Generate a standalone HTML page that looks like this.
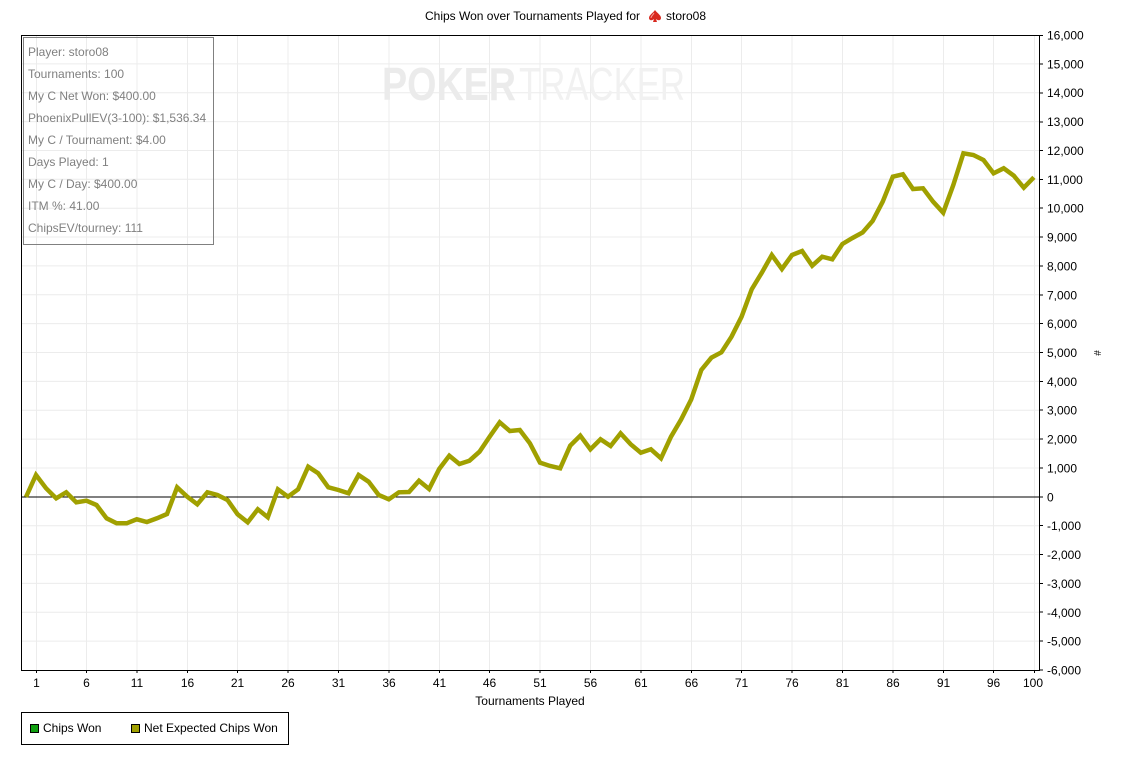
<!DOCTYPE html>
<html><head><meta charset="utf-8"><style>
html,body{margin:0;padding:0;background:#fff;}
svg{display:block;}
text{font-family:"Liberation Sans",sans-serif;}
</style></head><body>
<svg width="1129" height="758" viewBox="0 0 1129 758" xmlns="http://www.w3.org/2000/svg">
<rect width="1129" height="758" fill="#fff"/>
<!-- grid -->
<g stroke="#ececec" stroke-width="1">
<line x1="21" y1="63.9" x2="1039" y2="63.9"/><line x1="21" y1="92.7" x2="1039" y2="92.7"/><line x1="21" y1="121.6" x2="1039" y2="121.6"/><line x1="21" y1="150.5" x2="1039" y2="150.5"/><line x1="21" y1="179.3" x2="1039" y2="179.3"/><line x1="21" y1="208.2" x2="1039" y2="208.2"/><line x1="21" y1="237" x2="1039" y2="237"/><line x1="21" y1="265.9" x2="1039" y2="265.9"/><line x1="21" y1="294.8" x2="1039" y2="294.8"/><line x1="21" y1="323.6" x2="1039" y2="323.6"/><line x1="21" y1="352.5" x2="1039" y2="352.5"/><line x1="21" y1="381.4" x2="1039" y2="381.4"/><line x1="21" y1="410.2" x2="1039" y2="410.2"/><line x1="21" y1="439.1" x2="1039" y2="439.1"/><line x1="21" y1="468" x2="1039" y2="468"/><line x1="21" y1="525.7" x2="1039" y2="525.7"/><line x1="21" y1="554.6" x2="1039" y2="554.6"/><line x1="21" y1="583.4" x2="1039" y2="583.4"/><line x1="21" y1="612.3" x2="1039" y2="612.3"/><line x1="21" y1="641.1" x2="1039" y2="641.1"/>
<line x1="36.5" y1="35" x2="36.5" y2="670"/><line x1="86.5" y1="35" x2="86.5" y2="670"/><line x1="137" y1="35" x2="137" y2="670"/><line x1="187.5" y1="35" x2="187.5" y2="670"/><line x1="237.5" y1="35" x2="237.5" y2="670"/><line x1="288" y1="35" x2="288" y2="670"/><line x1="338.5" y1="35" x2="338.5" y2="670"/><line x1="389" y1="35" x2="389" y2="670"/><line x1="439.5" y1="35" x2="439.5" y2="670"/><line x1="489.5" y1="35" x2="489.5" y2="670"/><line x1="540" y1="35" x2="540" y2="670"/><line x1="590.5" y1="35" x2="590.5" y2="670"/><line x1="641" y1="35" x2="641" y2="670"/><line x1="691.5" y1="35" x2="691.5" y2="670"/><line x1="741.5" y1="35" x2="741.5" y2="670"/><line x1="792" y1="35" x2="792" y2="670"/><line x1="842.5" y1="35" x2="842.5" y2="670"/><line x1="893" y1="35" x2="893" y2="670"/><line x1="943.5" y1="35" x2="943.5" y2="670"/><line x1="993.5" y1="35" x2="993.5" y2="670"/><line x1="1034.5" y1="35" x2="1034.5" y2="670"/>
</g>
<!-- watermark -->
<text x="382" y="100" font-size="46" font-weight="bold" fill="#ebebeb" textLength="134" lengthAdjust="spacingAndGlyphs">POKER</text>
<text x="519" y="100" font-size="46" fill="#f1f1f1" textLength="166" lengthAdjust="spacingAndGlyphs">TRACKER</text>
<!-- axes -->
<g stroke="#000" stroke-width="1" fill="none">
<line x1="21.5" y1="35" x2="21.5" y2="670.5"/>
<line x1="21" y1="35.5" x2="1039" y2="35.5"/>
<line x1="21" y1="670.5" x2="1040" y2="670.5"/>
<line x1="1039.5" y1="35" x2="1039.5" y2="671"/>
<line x1="21" y1="497" x2="1039" y2="497"/>
</g>
<!-- y ticks -->
<g stroke="#000" stroke-width="1">
<line x1="1039" y1="35.5" x2="1043" y2="35.5"/><line x1="1039" y1="64" x2="1043" y2="64"/><line x1="1039" y1="93" x2="1043" y2="93"/><line x1="1039" y1="122" x2="1043" y2="122"/><line x1="1039" y1="150.5" x2="1043" y2="150.5"/><line x1="1039" y1="179.5" x2="1043" y2="179.5"/><line x1="1039" y1="208" x2="1043" y2="208"/><line x1="1039" y1="237" x2="1043" y2="237"/><line x1="1039" y1="266" x2="1043" y2="266"/><line x1="1039" y1="295" x2="1043" y2="295"/><line x1="1039" y1="323.5" x2="1043" y2="323.5"/><line x1="1039" y1="352.5" x2="1043" y2="352.5"/><line x1="1039" y1="381.5" x2="1043" y2="381.5"/><line x1="1039" y1="410" x2="1043" y2="410"/><line x1="1039" y1="439" x2="1043" y2="439"/><line x1="1039" y1="468" x2="1043" y2="468"/><line x1="1039" y1="497" x2="1043" y2="497"/><line x1="1039" y1="525.5" x2="1043" y2="525.5"/><line x1="1039" y1="554.5" x2="1043" y2="554.5"/><line x1="1039" y1="583.5" x2="1043" y2="583.5"/><line x1="1039" y1="612" x2="1043" y2="612"/><line x1="1039" y1="641" x2="1043" y2="641"/><line x1="1039" y1="670" x2="1043" y2="670"/>
</g>
<g font-size="12" fill="#000">
<text x="1047" y="39.5">16,000</text><text x="1047" y="68.4">15,000</text><text x="1047" y="97.2">14,000</text><text x="1047" y="126.1">13,000</text><text x="1047" y="155">12,000</text><text x="1047" y="183.8">11,000</text><text x="1047" y="212.7">10,000</text><text x="1047" y="241.5">9,000</text><text x="1047" y="270.4">8,000</text><text x="1047" y="299.3">7,000</text><text x="1047" y="328.1">6,000</text><text x="1047" y="357">5,000</text><text x="1047" y="385.9">4,000</text><text x="1047" y="414.7">3,000</text><text x="1047" y="443.6">2,000</text><text x="1047" y="472.5">1,000</text><text x="1047" y="501.3">0</text><text x="1047" y="530.2">-1,000</text><text x="1047" y="559.1">-2,000</text><text x="1047" y="587.9">-3,000</text><text x="1047" y="616.8">-4,000</text><text x="1047" y="645.6">-5,000</text><text x="1047" y="674.5">-6,000</text>
</g>
<text x="1097" y="353" font-size="10" fill="#000" text-anchor="middle" transform="rotate(90 1097 353)" dy="3">#</text>
<!-- x ticks -->
<g stroke="#000" stroke-width="1">
<line x1="36.5" y1="670" x2="36.5" y2="673"/><line x1="86.5" y1="670" x2="86.5" y2="673"/><line x1="137" y1="670" x2="137" y2="673"/><line x1="187.5" y1="670" x2="187.5" y2="673"/><line x1="237.5" y1="670" x2="237.5" y2="673"/><line x1="288" y1="670" x2="288" y2="673"/><line x1="338.5" y1="670" x2="338.5" y2="673"/><line x1="389" y1="670" x2="389" y2="673"/><line x1="439.5" y1="670" x2="439.5" y2="673"/><line x1="489.5" y1="670" x2="489.5" y2="673"/><line x1="540" y1="670" x2="540" y2="673"/><line x1="590.5" y1="670" x2="590.5" y2="673"/><line x1="641" y1="670" x2="641" y2="673"/><line x1="691.5" y1="670" x2="691.5" y2="673"/><line x1="741.5" y1="670" x2="741.5" y2="673"/><line x1="792" y1="670" x2="792" y2="673"/><line x1="842.5" y1="670" x2="842.5" y2="673"/><line x1="893" y1="670" x2="893" y2="673"/><line x1="943.5" y1="670" x2="943.5" y2="673"/><line x1="993.5" y1="670" x2="993.5" y2="673"/><line x1="1034.5" y1="670" x2="1034.5" y2="673"/>
</g>
<g font-size="12" fill="#000" text-anchor="middle">
<text x="36.5" y="687">1</text><text x="86.5" y="687">6</text><text x="137" y="687">11</text><text x="187.5" y="687">16</text><text x="237.5" y="687">21</text><text x="288" y="687">26</text><text x="338.5" y="687">31</text><text x="389" y="687">36</text><text x="439.5" y="687">41</text><text x="489.5" y="687">46</text><text x="540" y="687">51</text><text x="590.5" y="687">56</text><text x="641" y="687">61</text><text x="691.5" y="687">66</text><text x="741.5" y="687">71</text><text x="792" y="687">76</text><text x="842.5" y="687">81</text><text x="893" y="687">86</text><text x="943.5" y="687">91</text><text x="993.5" y="687">96</text><text x="1033" y="687">100</text>
<text x="530" y="705">Tournaments Played</text>
</g>
<!-- title -->
<text x="425" y="20" font-size="12" fill="#000">Chips Won over Tournaments Played for</text>
<g transform="translate(655,16)">
<path d="M0,-6 C2,-3 6,-1 6,2 C6,4.5 3,5 1,3 L2,6 L-2,6 L-1,3 C-3,5 -6,4.5 -6,2 C-6,-1 -2,-3 0,-6 Z" fill="#d8281e"/>
<path d="M-1,-3 C-2,-1 -4,0 -4,2" stroke="#f5a09a" stroke-width="1" fill="none"/>
</g>
<text x="666" y="20" font-size="12" fill="#000">storo08</text>
<!-- series -->
<polyline fill="none" stroke="#a0a000" stroke-width="4.5" stroke-linejoin="miter" stroke-miterlimit="3" points="26,497 36,475 46.1,488.3 56.2,498.3 66.2,492.3 76.3,502.3 86.4,500.7 96.5,505 106.6,518.3 116.6,523.3 126.7,523.3 136.8,519.3 146.9,522 157,518.3 167,514 177.1,487.3 187.2,496.7 197.3,504.3 207.4,492.3 217.4,495 227.5,500 237.6,514.3 247.7,522.3 257.8,509.3 267.8,517.3 277.9,489.3 288,496.7 298.1,489.3 308.2,466.7 318.2,473.3 328.3,487.3 338.4,490 348.5,493.3 358.6,475 368.6,481.7 378.7,495 388.8,499.3 398.9,492.3 409,492 419,480.7 429.1,489 439.2,469 449.3,455.7 459.4,464 469.4,460.7 479.5,451.7 489.6,436.7 499.7,422.3 509.8,431 519.8,430 529.9,443.3 540,462.7 550.1,466 560.2,468.3 570.2,445.7 580.3,435.7 590.4,449.3 600.5,439.3 610.6,446 620.6,433.3 630.7,444.3 640.8,452.7 650.9,449.3 661,458.3 671,436.7 681.1,419.5 691.2,399.5 701.3,370 711.4,357.7 721.4,352.3 731.5,336.7 741.6,316.7 751.7,289.3 761.8,272.7 771.8,255 781.9,269 792,255 802.1,251 812.2,265.7 822.2,256.7 832.3,259.3 842.4,244 852.5,238 862.6,232.5 872.6,221 882.7,201.7 892.8,176.7 902.9,174.3 913,189 923,188.3 933.1,201.7 943.2,212.7 953.3,185 963.4,153.3 973.4,155 983.5,160 993.6,173.3 1003.7,168.3 1013.8,175.7 1023.8,187.7 1033.9,177.3"/>
<!-- info box -->
<rect x="23.5" y="37.5" width="190" height="207" fill="none" stroke="#808080" stroke-width="1"/>
<g font-size="12" fill="#808080">
<text x="28" y="56">Player: storo08</text>
<text x="28" y="78">Tournaments: 100</text>
<text x="28" y="100">My C Net Won: $400.00</text>
<text x="28" y="122">PhoenixPullEV(3-100): $1,536.34</text>
<text x="28" y="144">My C / Tournament: $4.00</text>
<text x="28" y="166">Days Played: 1</text>
<text x="28" y="188">My C / Day: $400.00</text>
<text x="28" y="210">ITM %: 41.00</text>
<text x="28" y="232">ChipsEV/tourney: 111</text>
</g>
<!-- legend -->
<rect x="21.5" y="712.5" width="267" height="32" fill="#fff" stroke="#000" stroke-width="1"/>
<rect x="30.5" y="724.5" width="8" height="8" fill="#10a010" stroke="#000" stroke-width="1"/>
<text x="43" y="732" font-size="12" fill="#000">Chips Won</text>
<rect x="131.5" y="724.5" width="8" height="8" fill="#a0a000" stroke="#000" stroke-width="1"/>
<text x="144" y="732" font-size="12" fill="#000">Net Expected Chips Won</text>
</svg>
</body></html>
